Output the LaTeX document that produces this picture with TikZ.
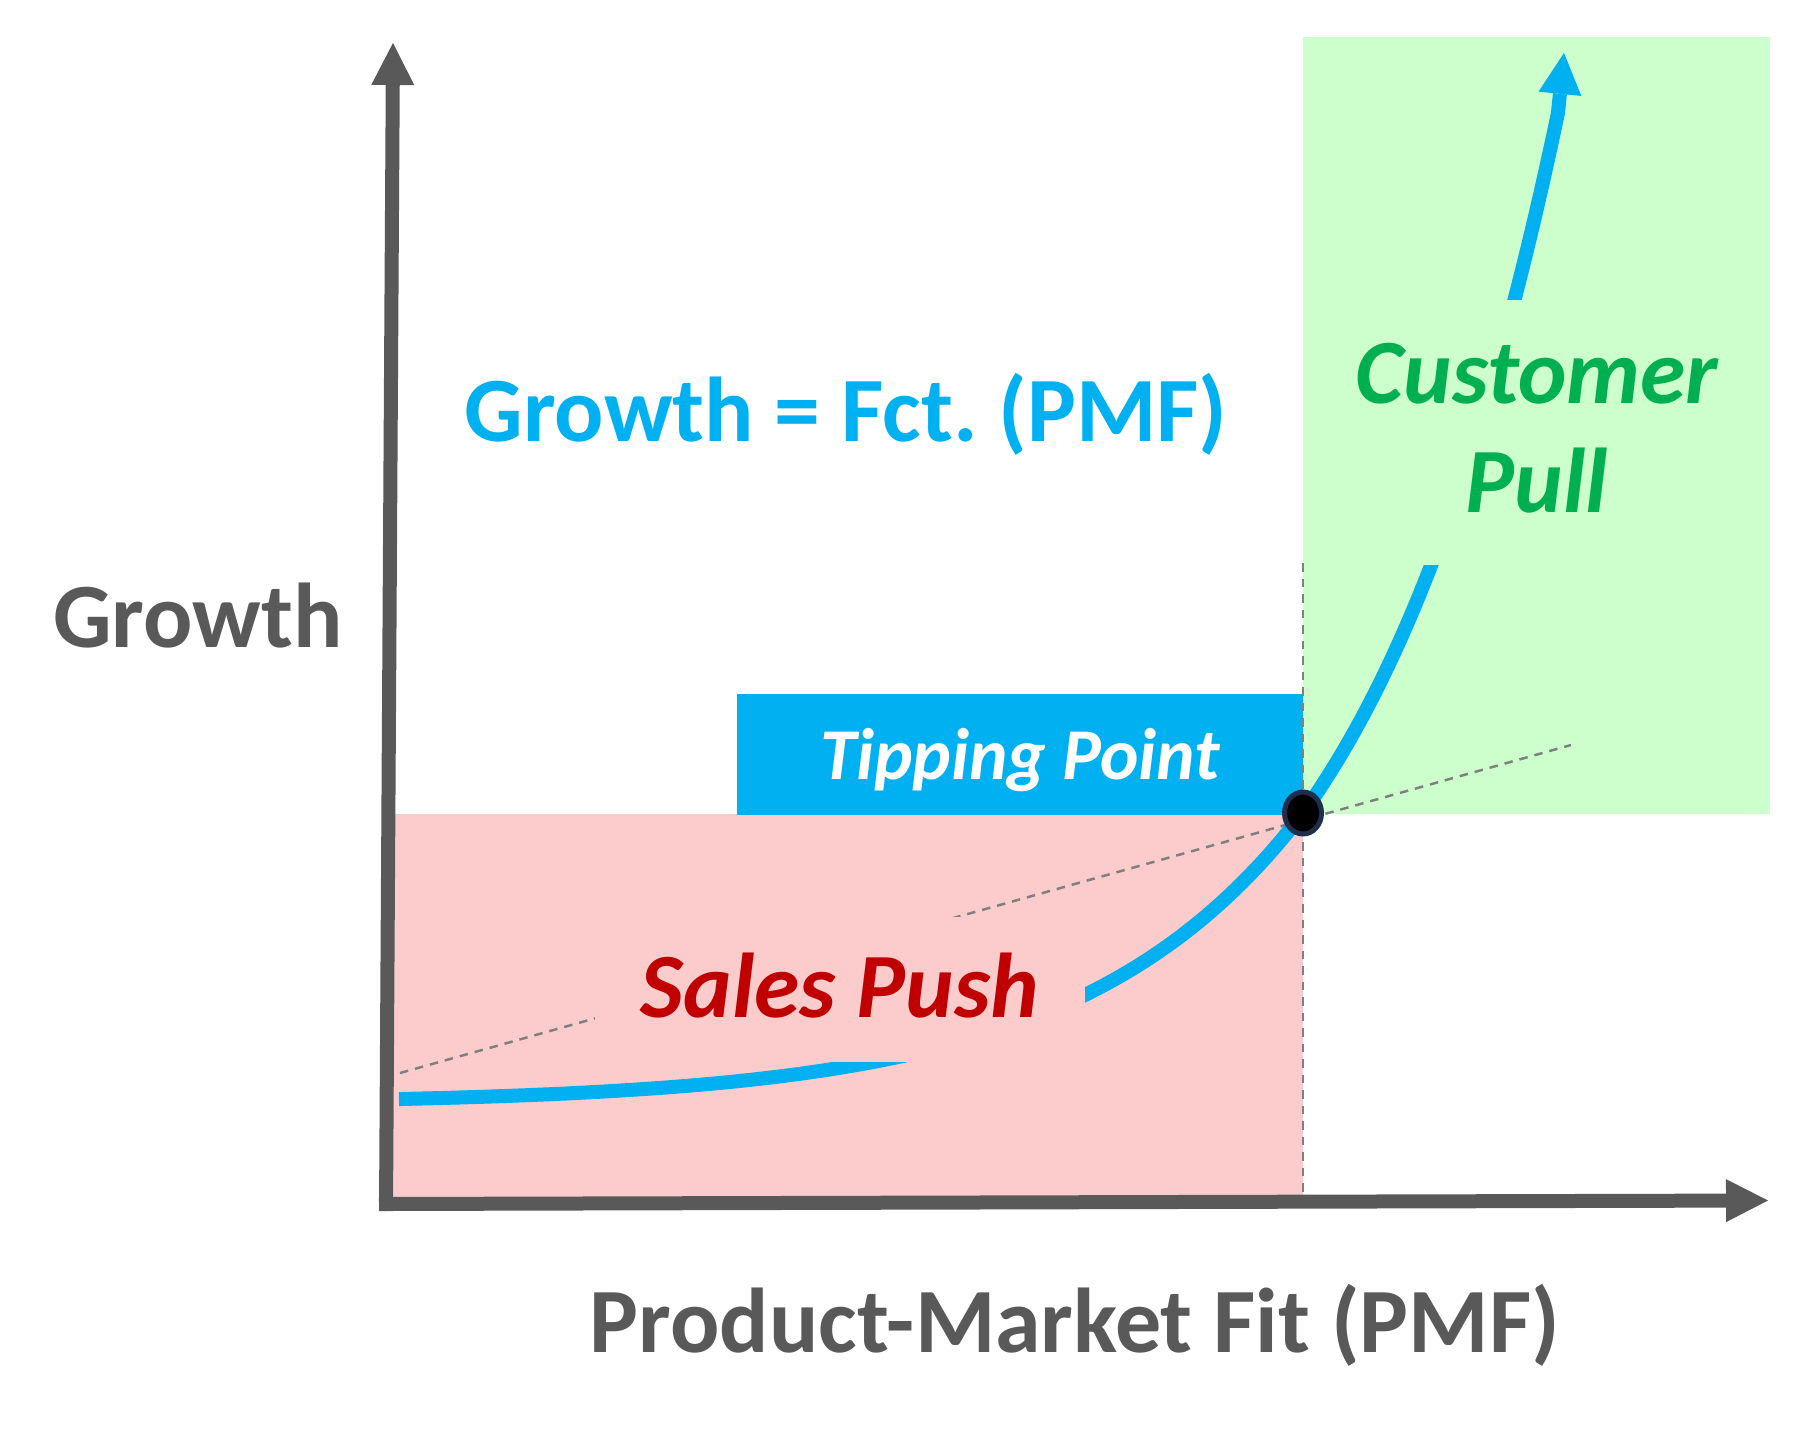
\documentclass[tikz,border=0pt]{standalone}
\usepackage{fontspec}
\setmainfont{Carlito}
\usetikzlibrary{arrows.meta,shapes.geometric}
\definecolor{pmfblue}{HTML}{00B0F0}
\definecolor{axisgray}{HTML}{595959}
\definecolor{pushbg}{RGB}{252,204,204}
\definecolor{pullbg}{RGB}{204,255,204}
\definecolor{pushred}{HTML}{C00000}
\definecolor{pullgreen}{HTML}{00B050}
\definecolor{dotrim}{HTML}{1F2E4D}
\definecolor{guide}{HTML}{808080}
\begin{document}
\begin{tikzpicture}[x=1pt,y=-1pt,
  axisline/.style={draw=axisgray, line width=14pt, -{Triangle[length=42pt,width=43pt,line width=0pt]}},
  guideline/.style={draw=guide, line width=2.5pt, dash pattern=on 8.5pt off 7pt},
  growthcurve/.style={draw=pmfblue, line width=14pt, -{Triangle[length=41pt,width=43pt,line width=0pt]}},
  bigtext/.style={font=\fontsize{92}{112}\selectfont\bfseries, inner sep=0pt, anchor=base},
  bigitalic/.style={font=\fontsize{92}{112}\selectfont\bfseries\itshape, inner sep=0pt, anchor=base},
  tipbox/.style={fill=pmfblue, text=white, font=\fontsize{73}{88}\selectfont\bfseries\itshape,
    inner sep=0pt, minimum width=566pt, minimum height=121pt, text height=49pt, text depth=0pt},
  pushbox/.style={fill=pushbg, text=pushred, font=\fontsize{92}{112}\selectfont\bfseries\itshape,
    inner sep=0pt, minimum width=490pt, minimum height=145pt, text height=55pt, text depth=0pt},
  pullbox/.style={fill=pullbg, inner sep=0pt, minimum width=380pt, minimum height=265pt},
  tipdot/.style={ellipse, fill=black, draw=dotrim, line width=5pt, inner sep=0pt,
    minimum width=37pt, minimum height=42pt}
]
\useasboundingbox (0,0) rectangle (1811,1431);

% regions
\fill[pullbg] (1303,37) rectangle (1770,814);
\fill[pushbg] (393,814) rectangle (1303,1198);

% tipping point label box
\node[tipbox] (tipping) at (1020,754.5) {Tipping Point};

% guide lines
\coordinate (vtop) at (1303,563);
\coordinate (vbot) at (1303,1197);
\draw[guideline] (vtop) -- (vbot);
\coordinate (gstart) at (400,1073);
\coordinate (gend) at (1571,745);
\draw[guideline] (gstart) -- (gend);

% growth curve
\coordinate (ctip) at (1564,53);
\draw[growthcurve]
  plot[domain=399:1303, samples=120] (\x, {1104-291*exp(0.0045*(\x-1303))})
  -- plot[domain=1303:1558, samples=60] (\x, {1104-291*exp(0.0048*(\x-1303))})
  -- (ctip);

% text boxes that hide parts of the lines
\node[pushbox] (push) at (840,989.5) {Sales Push};
\node[pullbox] (pullzone) at (1535,432.5) {};
\node[bigitalic, text=pullgreen] (cust) at (1537,403) {Customer};
\node[bigitalic, text=pullgreen] (pull) at (1537,512) {Pull};

% tipping point marker
\node[tipdot] (dot) at (1303,813) {};

% axes
\coordinate (yfoot) at (386,1211);
\coordinate (ytip) at (393,43);
\draw[axisline] (yfoot) -- (ytip);
\coordinate (xfoot) at (379,1204);
\coordinate (xtip) at (1768,1200.5);
\draw[axisline] (xfoot) -- (xtip);

% labels
\node[bigtext, text=axisgray] (ylabel) at (198,647) {Growth};
\node[bigtext, text=pmfblue] (formula) at (846,441) {Growth = Fct.\ (PMF)};
\node[bigtext, text=axisgray] (xlabel) at (1075,1352) {Product-Market Fit (PMF)};
\end{tikzpicture}
\end{document}
